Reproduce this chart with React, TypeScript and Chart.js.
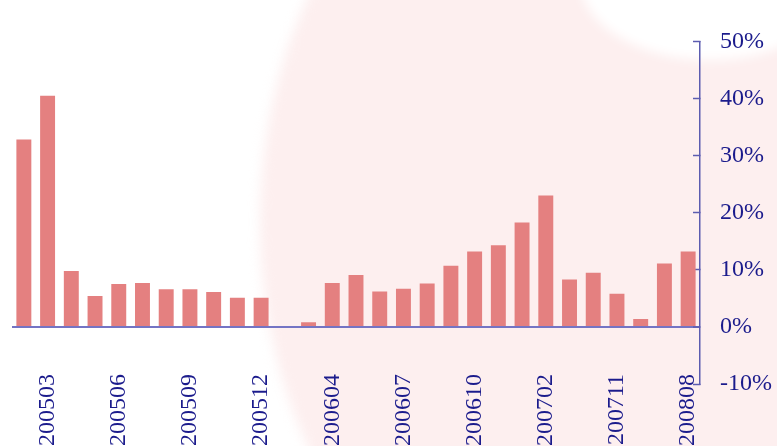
import React, { useEffect, useRef } from "react";
import { Chart, registerables } from "chart.js";

Chart.register(...registerables);

const categories = [
  "200502", "200503", "200504", "200505", "200506", "200507", "200508", "200509",
  "200510", "200511", "200512", "200601", "200603", "200604", "200605", "200606",
  "200607", "200608", "200609", "200610", "200611", "200612", "200702", "200705",
  "200708", "200711", "200802", "200805", "200808",
];

const growthPct: (number | null)[] = [
  32.8, 40.5, 9.8, 5.4, 7.5, 7.7, 6.6, 6.6, 6.1, 5.1, 5.1, null, 0.8, 7.7, 9.1, 6.2,
  6.7, 7.6, 10.7, 13.2, 14.3, 18.3, 23.0, 8.3, 9.5, 5.8, 1.4, 11.1, 13.2,
];

const yMin = -10;
const yMax = 50;
const yStep = 10;

const NAVY = "#1b1b8c";
const AXIS = "#5c5cb0";
const BAR = "#e48080";

const watermark = {
  id: "watermark",
  beforeDraw(chart: any) {
    const { ctx, width, height } = chart;
    ctx.save();
    ctx.fillStyle = "#ffffff";
    ctx.fillRect(0, 0, width, height);
    ctx.filter = "blur(6px)";
    ctx.fillStyle = "#fdefef";
    ctx.beginPath();
    ctx.ellipse(562, 222, 302, 416, 0, 0, Math.PI * 2);
    ctx.fill();
    ctx.fillStyle = "#ffffff";
    ctx.beginPath();
    ctx.ellipse(710, -20, 130, 80, 0, 0, Math.PI * 2);
    ctx.fill();
    ctx.restore();
  },
};

export default function App() {
  const ref = useRef<HTMLCanvasElement | null>(null);

  useEffect(() => {
    if (!ref.current) return;
    const chart = new Chart(ref.current, {
      type: "bar",
      data: {
        labels: categories,
        datasets: [
          {
            data: growthPct,
            backgroundColor: BAR,
            borderWidth: 0,
            barPercentage: 0.63,
            categoryPercentage: 1,
            yAxisID: "y",
          },
        ],
      },
      plugins: [watermark],
      options: {
        animation: false,
        responsive: true,
        maintainAspectRatio: false,
        layout: { padding: { left: 12, top: 39, right: 0, bottom: 0 } },
        plugins: {
          legend: { display: false },
          tooltip: { enabled: false },
        },
        scales: {
          x: {
            grid: { display: false },
            border: { display: false },
            afterFit: (scale: any) => {
              scale.height = 62;
              // let the rotated labels reach above the axis box (no clipping)
              scale._computeLabelArea = () => undefined;
            },
            ticks: {
              autoSkip: false,
              maxRotation: 90,
              minRotation: 90,
              padding: -18,
              color: NAVY,
              font: { family: "'Liberation Serif', 'Times New Roman', serif", size: 24 },
              callback: (_v: any, i: number) => (i % 3 === 1 ? categories[i] : ""),
            },
          },
          y: {
            position: "right",
            min: yMin,
            max: yMax,
            afterFit: (scale: any) => {
              scale.width = 77;
            },
            border: { display: true, color: AXIS, width: 1.5 },
            grid: {
              drawOnChartArea: true,
              drawTicks: true,
              tickLength: -7,
              tickColor: AXIS,
              tickWidth: 1.5,
              color: (c: any) => (c.tick && c.tick.value === 0 ? "#7474c4" : "rgba(0,0,0,0)"),
              lineWidth: (c: any) => (c.tick && c.tick.value === 0 ? 2 : 1),
            },
            ticks: {
              stepSize: yStep,
              padding: 27,
              color: NAVY,
              font: { family: "'Liberation Serif', 'Times New Roman', serif", size: 24 },
              callback: (v: any) => `${v}%`,
            },
          },
        },
      },
    });
    return () => chart.destroy();
  }, []);

  return (
    <div style={{ position: "fixed", left: 0, top: 0, width: 777, height: 446, background: "#fff" }}>
      <canvas ref={ref} />
    </div>
  );
}
